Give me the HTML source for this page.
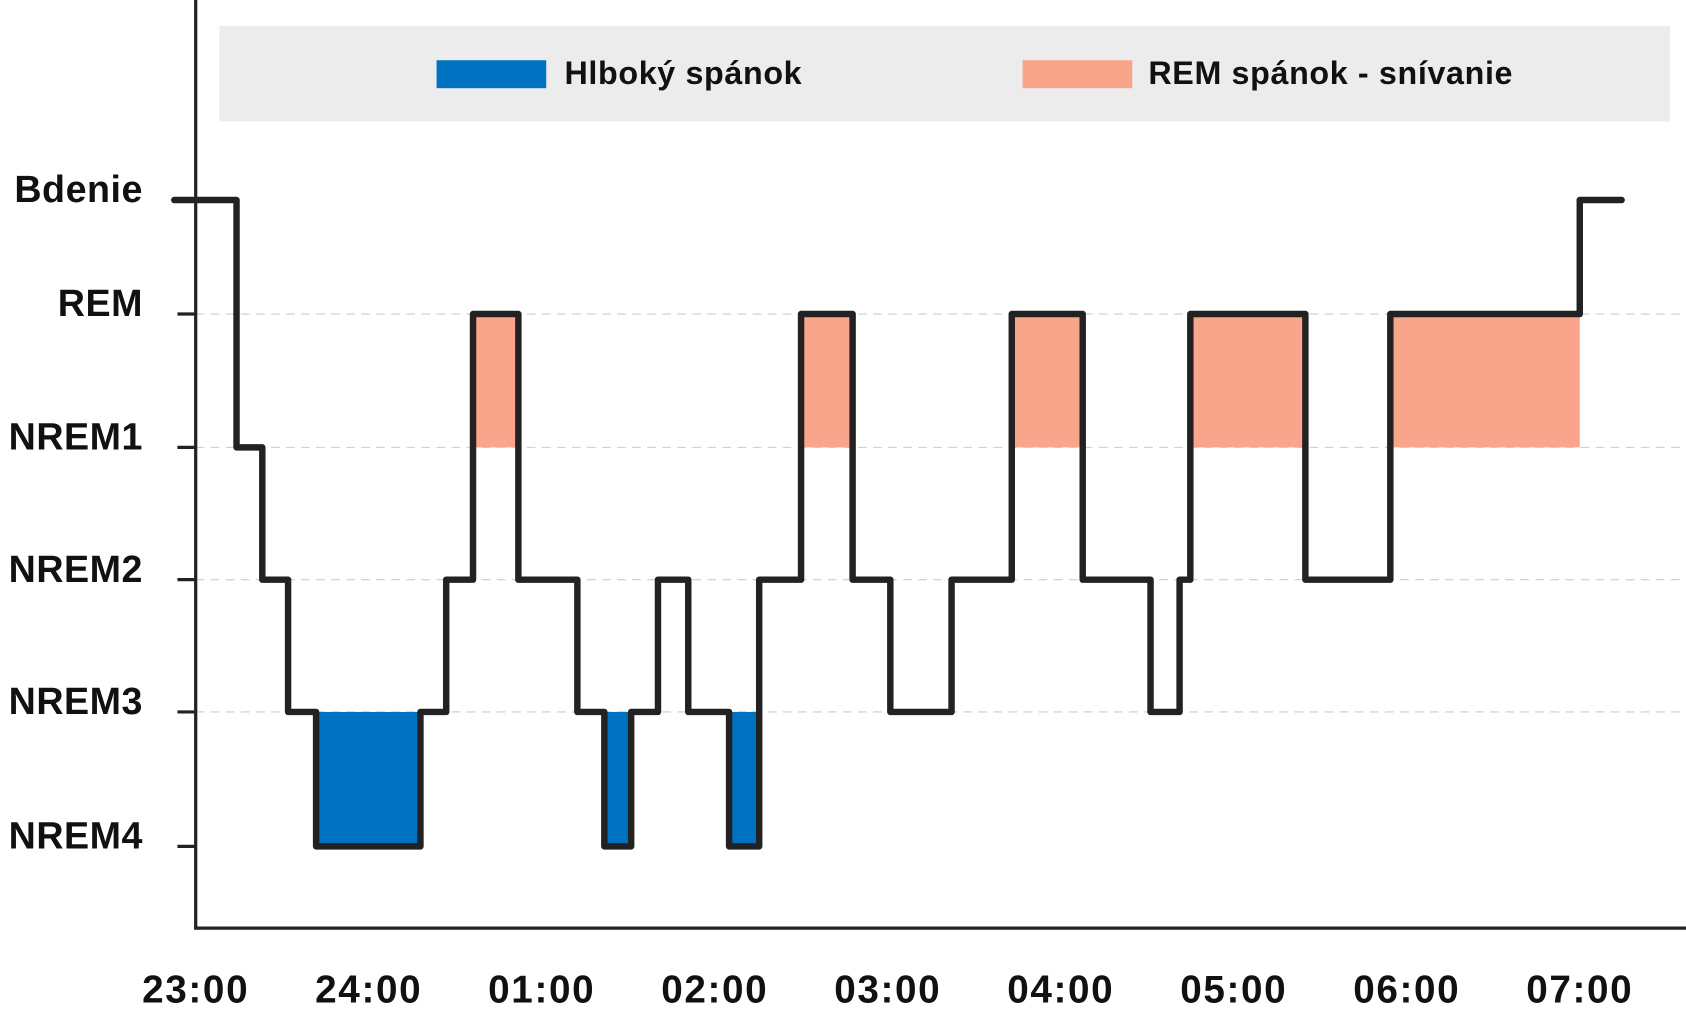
<!DOCTYPE html>
<html><head><meta charset="utf-8"><style>
html,body{margin:0;padding:0;background:#fff;}
svg{display:block;}
text{font-family:"Liberation Sans",sans-serif;font-weight:bold;fill:#111;}
</style></head><body>
<svg id="chart" width="1686" height="1012" viewBox="0 0 1568 941" preserveAspectRatio="none" xmlns="http://www.w3.org/2000/svg">
<rect x="204" y="24" width="1349" height="89" fill="#ececec"/>
<rect x="406" y="56" width="102" height="26" fill="#0072c2"/>
<text x="525" y="78" font-size="30" letter-spacing="0.6">Hlboký spánok</text>
<rect x="951" y="56" width="102" height="26" fill="#f9a58c"/>
<text x="1068" y="78" font-size="30" letter-spacing="0.6">REM spánok - snívanie</text>
<g id="grid"></g><g id="fills"></g><g id="ylab"></g><g id="xlab"></g>
<line x1="182" y1="0" x2="182" y2="863" stroke="#222" stroke-width="3"/>
<line x1="180.5" y1="863" x2="1568" y2="863" stroke="#222" stroke-width="3"/>
<g id="line"></g>
</svg>
<script>
const stages = ["Bdenie","REM","NREM1","NREM2","NREM3","NREM4"];
const timeLabels = ["23:00","24:00","01:00","02:00","03:00","04:00","05:00","06:00","07:00"];
const stepTimes = [-0.124,0.236,0.385,0.534,0.696,1.299,1.448,1.603,1.865,2.206,2.362,2.517,2.672,2.847,3.083,3.257,3.499,3.797,4.015,4.369,4.717,5.127,5.519,5.687,5.749,6.414,6.905,8.0,8.242];
const stepStages = [0,2,3,4,5,4,3,1,3,4,5,4,3,4,5,3,1,3,4,3,1,3,4,3,1,3,1,0];
const NS="http://www.w3.org/2000/svg";
const stageY=[186,292,416,539,662,787];
function y(i){return stageY[i];}
function x(h){return 182+h*160.9;}
function mk(tag,attrs,parent){const e=document.createElementNS(NS,tag);for(const k in attrs)e.setAttribute(k,attrs[k]);document.getElementById(parent).appendChild(e);return e;}
stages.forEach((s,i)=>{
  if(i>0&&i<5){const g=mk('line',{x1:182,x2:1568,y1:y(i),y2:y(i),stroke:'#ccc','stroke-width':1,'stroke-dasharray':'8,6'},'grid');
  
  }
  const t=mk('line',{x1:165,x2:182,y1:y(i),y2:y(i),stroke:'#222','stroke-width':3},'ylab');
  
  
  const l=mk('text',{x:133,y:y(i)+2,'text-anchor':'end','font-size':35,'letter-spacing':0.5},'ylab');
  l.textContent=s;
  
  
});
timeLabels.forEach((t,i)=>{
  const l=mk('text',{x:x(i),y:932,'text-anchor':'middle','font-size':36,'letter-spacing':1.5},'xlab');
  l.textContent=t;
  
  
});
let d='';
for(let i=0;i<stepStages.length;i++){
  const x0=x(stepTimes[i]),x1=x(stepTimes[i+1]),s=stepStages[i];
  d+=(i===0?'M':'L')+x0+','+y(s)+'L'+x1+','+y(s);
  if(s===5){const r=mk('rect',{x:x0,y:y(4),width:x1-x0,height:y(5)-y(4),fill:'#0072c2'},'fills');
    
    }
  if(s===1){const r=mk('rect',{x:x0,y:y(1),width:x1-x0,height:y(2)-y(1),fill:'#f9a58c'},'fills');
    
    }
}
const p=mk('path',{d:d,fill:'none',stroke:'#222','stroke-width':6,'stroke-linecap':'round','stroke-linejoin':'round'},'line');


</script>
</body></html>
